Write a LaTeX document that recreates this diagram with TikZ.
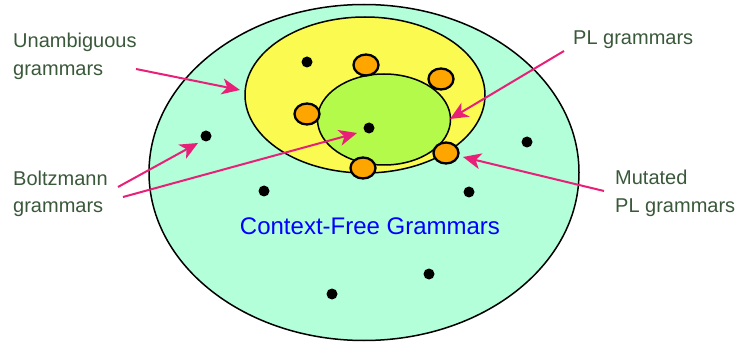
\documentclass[tikz,border=0pt]{standalone}
\usepackage{fontspec}
\setmainfont{Liberation Sans}
\usetikzlibrary{arrows.meta}
\definecolor{cfgfill}{RGB}{179,255,218}
\definecolor{unambfill}{RGB}{250,250,80}
\definecolor{plfill}{RGB}{180,250,75}
\definecolor{mutfill}{RGB}{255,165,0}
\definecolor{pointer}{RGB}{232,32,120}
\definecolor{labelgreen}{RGB}{58,88,58}
\tikzset{
  setline/.style={draw=black, line width=1.5pt},
  mutant/.style={draw=black, line width=2.3pt, fill=mutfill},
  grammardot/.style={fill=black},
  pointer/.style={draw=pointer, line width=2pt,
    -{Stealth[length=18pt, width=16pt, inset=5pt]}},
  tag/.style={anchor=base west, inner sep=0pt, align=left,
    text=labelgreen, font=\fontsize{20}{27.5}\selectfont},
}
\begin{document}
\begin{tikzpicture}[x=1pt, y=-1pt]
\useasboundingbox (0,0) rectangle (737,342);

% nested grammar classes
\draw[setline, fill=cfgfill] (364,172.5) ellipse [x radius=215, y radius=168];
\draw[setline, fill=unambfill] (365,95) ellipse [x radius=120, y radius=78];
\draw[setline, fill=plfill] (384,119.5) ellipse [x radius=66.5, y radius=45.5];

% mutated PL grammars
\draw[mutant] (366,65) ellipse [x radius=12.5, y radius=10.5];
\draw[mutant] (441,79) ellipse [x radius=12.5, y radius=10.5];
\draw[mutant] (307,114) ellipse [x radius=12.5, y radius=10.5];
\draw[mutant] (363,168) ellipse [x radius=12.5, y radius=10.5];
\draw[mutant] (446,153) ellipse [x radius=12.5, y radius=10.5];

% individual grammars
\fill[grammardot] (307,62) circle [radius=5.5];
\fill[grammardot] (369,128) circle [radius=5.5];
\fill[grammardot] (206,136) circle [radius=5.5];
\fill[grammardot] (527,142) circle [radius=5.5];
\fill[grammardot] (264,191) circle [radius=5.5];
\fill[grammardot] (469,192) circle [radius=5.5];
\fill[grammardot] (429,274) circle [radius=5.5];
\fill[grammardot] (332,294) circle [radius=5.5];

\node[inner sep=0pt, anchor=base, text=blue, font=\fontsize{24}{28}\selectfont]
  (cfg) at (370,235) {Context-Free Grammars};

% labels (a two-line label is placed by the baseline of its last line)
\node[tag] (unamb) at (13,75.2) {Unambiguous\\grammars};
\node[tag] (pl) at (573,45) {PL grammars};
\node[tag] (boltz) at (13,213) {Boltzmann\\grammars};
\node[tag] (mut) at (615,212) {Mutated\\PL grammars};

% pointers
\coordinate (unambFrom) at (136,69);
\coordinate (unambTo) at (240,90);
\coordinate (plFrom) at (564,51);
\coordinate (plTo) at (450,119);
\coordinate (boltzFromA) at (118,187);
\coordinate (boltzToA) at (198,143);
\coordinate (boltzFromB) at (123,197);
\coordinate (boltzToB) at (357,133);
\coordinate (mutFrom) at (604,191);
\coordinate (mutTo) at (463,157);
\draw[pointer] (unambFrom) -- (unambTo);
\draw[pointer] (plFrom) -- (plTo);
\draw[pointer] (boltzFromA) -- (boltzToA);
\draw[pointer] (boltzFromB) -- (boltzToB);
\draw[pointer] (mutFrom) -- (mutTo);
\end{tikzpicture}
\end{document}
